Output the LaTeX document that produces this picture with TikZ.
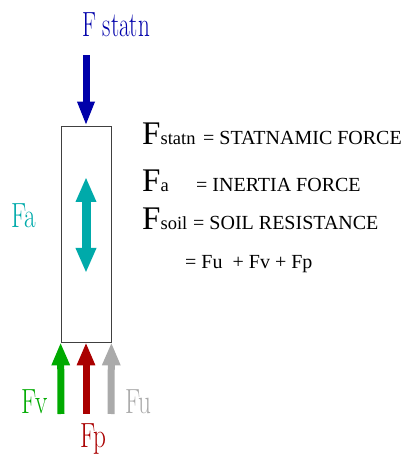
\documentclass[tikz,border=0pt]{standalone}
\usepackage{fontspec}
\usepackage{tikz}
\usetikzlibrary{arrows.meta, positioning}
\newfontfamily\timesfont{Liberation Serif}
\definecolor{pileblue}{RGB}{0, 0, 170}
\definecolor{pileteal}{RGB}{0, 170, 170}
\definecolor{pilegreen}{RGB}{0, 170, 0}
\definecolor{pilered}{RGB}{170, 0, 0}
\definecolor{pilegray}{RGB}{170, 170, 170}
\newcommand{\narrowtxt}[2][0.72]{\scalebox{#1}[1]{#2}}
\newcommand{\subtxt}[1]{{\fontsize{18.5}{18.5}\selectfont #1}}

\begin{document}
\begin{tikzpicture}[
    x=1pt, y=1pt,
    forcearr/.style={-{Triangle[length=23pt, width=17pt]}, line width=7pt, #1},
    lbl/.style={text=#1, inner sep=0pt, anchor=base, font=\fontsize{35}{35}\selectfont},
    sym/.style={inner sep=0pt, anchor=base west, font=\timesfont\fontsize{33}{33}\selectfont},
    defn/.style={inner sep=0pt, anchor=base west, font=\timesfont\fontsize{20}{20}\selectfont}
]
\useasboundingbox (0, 0) rectangle (403, 455);

% pile
\node[draw=black!75, line width=0.8pt, minimum width=50pt, minimum height=216pt, inner sep=0pt] (pile) at (86, 221) {};

% statnamic load
\coordinate (statntail) at (86, 400);
\draw[forcearr=pileblue, {Triangle[length=24pt, width=16pt]}-] (pile.north) -- (statntail);
\node[lbl=pileblue] (statnlbl) at (116, 418) {\narrowtxt[0.66]{F statn}};

% inertia
\coordinate (accup) at (86, 278);
\coordinate (accdown) at (86, 182);
\draw[{Triangle[length=25pt, width=19pt]}-{Triangle[length=25pt, width=19pt]}, line width=9pt, pileteal] (accup) -- (accdown);
\node[lbl=pileteal, anchor=base west] (falbl) at (11, 227) {\narrowtxt{Fa}};

% soil resistance
\coordinate (fvtail) at (61, 41);
\coordinate (fptail) at (86, 41);
\coordinate (futail) at (111, 41);
\draw[forcearr=pilegreen] (fvtail) -- (pile.south west);
\draw[forcearr=pilered] (fptail) -- (pile.south);
\draw[forcearr=pilegray] (futail) -- (pile.south east);
\node[lbl=pilegreen] (fvlbl) at (34.5, 41) {\narrowtxt{Fv}};
\node[lbl=pilered] (fplbl) at (93.5, 8) {\narrowtxt{Fp}};
\node[lbl=pilegray] (fulbl) at (138.5, 41) {\narrowtxt{Fu}};

% legend
\node[sym] (symstatn) at (142, 310) {F\subtxt{statn}};
\node[defn] (defstatn) at (203, 310) {= STATNAMIC FORCE};
\node[sym] (syma) at (142, 263) {F\subtxt{a}};
\node[defn] (defa) at (196, 263) {= INERTIA FORCE};
\node[sym] (symsoil) at (142, 225) {F\subtxt{soil}};
\node[defn] (defsoil) at (193, 225) {= SOIL RESISTANCE};
\node[defn] (defsum) at (185, 186) {= Fu\ \ + Fv + Fp};

\end{tikzpicture}
\end{document}
